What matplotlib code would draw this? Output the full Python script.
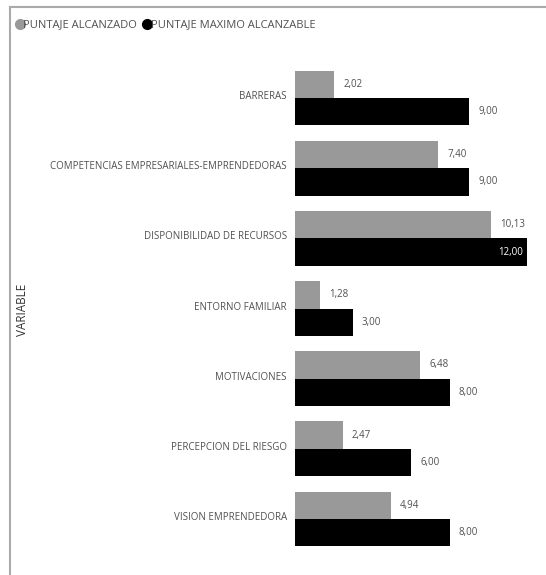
import matplotlib.pyplot as plt
from matplotlib.lines import Line2D

# datos
variables = ["BARRERAS",
             "COMPETENCIAS EMPRESARIALES-EMPRENDEDORAS",
             "DISPONIBILIDAD DE RECURSOS",
             "ENTORNO FAMILIAR",
             "MOTIVACIONES",
             "PERCEPCION DEL RIESGO",
             "VISION EMPRENDEDORA"]
alcanzado = [2.02, 7.40, 10.13, 1.28, 6.48, 2.47, 4.94]
maximo = [9.00, 9.00, 12.00, 3.00, 8.00, 6.00, 8.00]

gris = "#999999"
negro = "#000000"
txt = "#505050"
plt.rcParams['font.family'] = ['Open Sans', 'DejaVu Sans']

W, H = 546, 575
fig = plt.figure(figsize=(W/100, H/100), dpi=100)

# posicion del eje en pixeles
x0, x1 = 295, 527
y_top, y_bot = 63, 554
ax = fig.add_axes([x0/W, 1 - y_bot/H, (x1 - x0)/W, (y_bot - y_top)/H])

h = 0.39
pos = list(range(len(variables)))
ax.barh([p - h/2 for p in pos], alcanzado, height=h, color=gris)
ax.barh([p + h/2 for p in pos], maximo, height=h, color=negro)

ax.set_xlim(0, 12)
ax.set_ylim(len(variables) - 0.5, -0.5)
ax.axis("off")

for p, a, m in zip(pos, alcanzado, maximo):
    ax.annotate(f"{a:.2f}".replace(".", ","), (a, p - h/2), xytext=(6.5, 0),
                textcoords="offset points", va="center", ha="left",
                fontsize=7, color=txt)
    if m >= max(maximo):
        ax.annotate(f"{m:.2f}".replace(".", ","), (m, p + h/2), xytext=(-3, 0),
                    textcoords="offset points", va="center", ha="right",
                    fontsize=7, color="white")
    else:
        ax.annotate(f"{m:.2f}".replace(".", ","), (m, p + h/2), xytext=(6.5, 0),
                    textcoords="offset points", va="center", ha="left",
                    fontsize=7, color=txt)
    ax.annotate(variables[p], (0, p), xytext=(-6, 1), textcoords="offset points",
                va="center", ha="right", fontsize=7, color=txt)

# titulo del eje
fig.text(22/W, 1 - 310/H, "VARIABLE", rotation=90, ha="center", va="center",
         fontsize=8.5, color="#333333")

# leyenda
handles = [Line2D([], [], marker="o", ls="", color=gris, markersize=7),
           Line2D([], [], marker="o", ls="", color=negro, markersize=7)]
fig.legend(handles, ["PUNTAJE ALCANZADO", "PUNTAJE MAXIMO ALCANZABLE"],
           loc="center left", bbox_to_anchor=(9/W, 1 - 25/H), ncol=2, frameon=False,
           fontsize=8, handletextpad=-0.3, columnspacing=0.3, labelcolor=txt,
           borderaxespad=0, handlelength=1.2)

# marco
fig.add_artist(Line2D([9.5/W, 9.5/W], [0, 1 - 6.5/H], color="#aaaaaa", lw=1.5))
fig.add_artist(Line2D([9.5/W, 1], [1 - 6.5/H, 1 - 6.5/H], color="#aaaaaa", lw=1.5))

fig.savefig("out.png", dpi=100)
